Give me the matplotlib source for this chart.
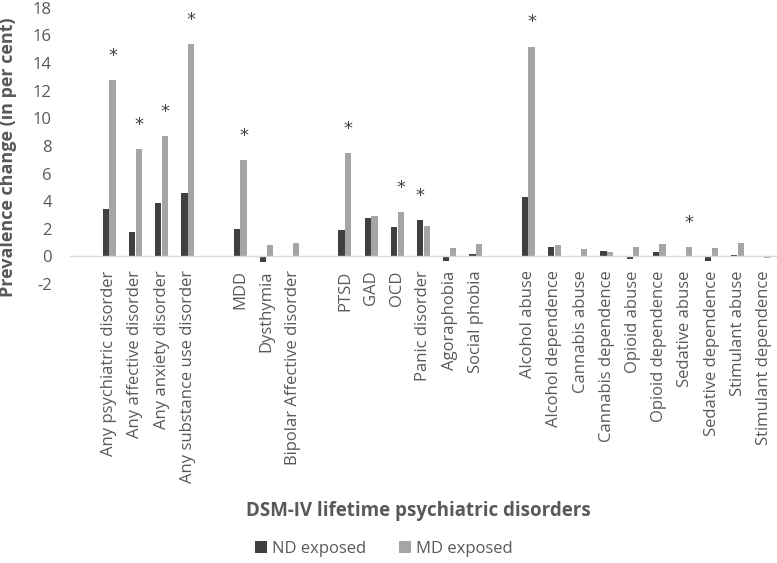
import numpy as np
import matplotlib.pyplot as plt

categories = ["", "Any psychiatric disorder", "Any affective disorder", "Any anxiety disorder",
              "Any substance use disorder", "", "MDD", "Dysthymia", "Bipolar Affective disorder", "",
              "PTSD", "GAD", "OCD", "Panic disorder", "Agoraphobia", "Social phobia", "",
              "Alcohol abuse", "Alcohol dependence", "Cannabis abuse", "Cannabis dependence",
              "Opioid abuse", "Opioid dependence", "Sedative abuse", "Sedative dependence",
              "Stimulant abuse", "Stimulant dependence"]
nd_exposed = [np.nan, 3.4, 1.8, 3.9, 4.6, np.nan, 2.0, -0.4, 0.0, np.nan,
              1.9, 2.8, 2.1, 2.6, -0.3, 0.2, np.nan,
              4.3, 0.7, -0.05, 0.4, -0.2, 0.3, 0.0, -0.3, 0.1, 0.0]
md_exposed = [np.nan, 12.8, 7.8, 8.7, 15.4, np.nan, 7.0, 0.8, 1.0, np.nan,
              7.5, 2.9, 3.2, 2.2, 0.6, 0.9, np.nan,
              15.2, 0.8, 0.5, 0.3, 0.7, 0.9, 0.7, 0.6, 1.0, -0.1]
# which bar carries the significance star: 'md' or 'nd'
stars = {"Any psychiatric disorder": "md", "Any affective disorder": "md",
         "Any anxiety disorder": "md", "Any substance use disorder": "md",
         "MDD": "md", "PTSD": "md", "OCD": "md", "Panic disorder": "nd",
         "Alcohol abuse": "md", "Sedative abuse": "md"}

txt = "#595959"
fig = plt.figure(figsize=(7.77, 5.63), dpi=100)
ax = fig.add_axes([0.09, 0.4956, 0.91, 0.4904])
for s in ["top", "right", "left"]:
    ax.spines[s].set_visible(False)
ax.spines["bottom"].set_position(("data", 0))
ax.spines["bottom"].set_color("#D9D9D9")
ax.spines["bottom"].set_linewidth(1.0)

x = np.arange(len(categories))
w = 0.235
ax.bar(x - w / 2 - 0.01, nd_exposed, w, color="#404040", label="ND exposed")
ax.bar(x + w / 2 + 0.01, md_exposed, w, color="#A5A5A5", label="MD exposed")

for i, c in enumerate(categories):
    if c in stars:
        if stars[c] == "md":
            xs, v = x[i] + w / 2 + 0.01, md_exposed[i]
        else:
            xs, v = x[i] - w / 2 - 0.01, nd_exposed[i]
        ax.text(xs, v + 1.75, "*", ha="center", va="center", fontsize=13, color="#404040",
                family="DejaVu Sans")

ax.set_xlim(-0.5, len(categories) - 0.5)
ax.set_ylim(-2, 18)
ax.set_yticks(range(-2, 19, 2))
ax.set_yticklabels([str(v) for v in range(-2, 19, 2)], family="Open Sans")
ax.set_xticks(x)
ax.set_xticklabels(categories, rotation=90, fontsize=12, color=txt, family="Open Sans")
ax.tick_params(axis="x", length=0, pad=10)
ax.tick_params(axis="y", length=0, labelsize=12, labelcolor=txt, pad=13)

ax.set_ylabel("Prevalence change (in per cent)", fontsize=13, fontweight="bold", color=txt,
              family="Open Sans")
ax.yaxis.set_label_coords(-0.075, 0.46)
fig.text(0.5386, 0.092, "DSM-IV lifetime psychiatric disorders", ha="center", va="center",
         fontsize=13.5, fontweight="bold", color=txt, family="Open Sans")

fig.legend(loc="center", bbox_to_anchor=(0.494, 0.025), ncol=2, frameon=False,
           prop={"family": "Open Sans", "size": 12}, labelcolor=txt,
           handlelength=0.7, handleheight=0.7, handletextpad=0.3, columnspacing=2.0)

fig.savefig("out.png")
